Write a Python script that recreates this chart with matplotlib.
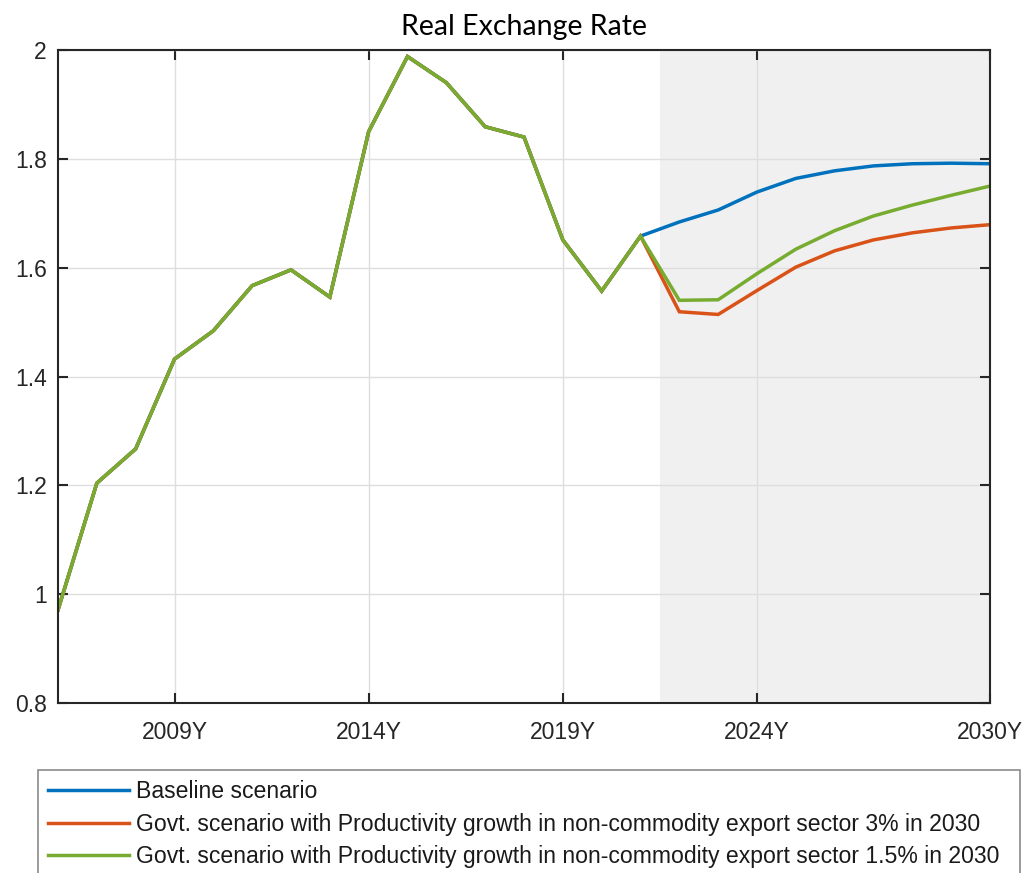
import matplotlib.pyplot as plt
import numpy as np

# data
hist_years = [2006, 2007, 2008, 2009, 2010, 2011, 2012, 2013, 2014, 2015,
              2016, 2017, 2018, 2019, 2020, 2021]
hist_vals = [0.971, 1.204, 1.267, 1.432, 1.484, 1.567, 1.596, 1.546, 1.850, 1.988,
             1.940, 1.859, 1.840, 1.651, 1.557, 1.658]

proj_years = [2022, 2023, 2024, 2025, 2026, 2027, 2028, 2029, 2030]
baseline = [1.684, 1.706, 1.739, 1.764, 1.778, 1.787, 1.791, 1.792, 1.791]
govt_3 = [1.519, 1.514, 1.558, 1.601, 1.631, 1.651, 1.664, 1.673, 1.679]
govt_15 = [1.540, 1.541, 1.589, 1.634, 1.668, 1.695, 1.715, 1.733, 1.750]

labels = ["Baseline scenario",
          "Govt. scenario with Productivity growth in non-commodity export sector 3% in 2030",
          "Govt. scenario with Productivity growth in non-commodity export sector 1.5% in 2030"]
colors = ["#0072BD", "#D95319", "#77AC30"]

xticks = [2009, 2014, 2019, 2024, 2030]
xticklabels = ["2009Y", "2014Y", "2019Y", "2024Y", "2030Y"]
yticks = [0.8, 1.0, 1.2, 1.4, 1.6, 1.8, 2.0]
yticklabels = ["0.8", "1", "1.2", "1.4", "1.6", "1.8", "2"]
forecast_start = 2021.5


def main():
    plt.rcParams['font.family'] = ['Liberation Sans', 'DejaVu Sans']
    fig = plt.figure(figsize=(10.28, 8.73), dpi=100)
    ax = fig.add_axes([58/1028, 1-703/873, (990-58)/1028, (703-50)/873])

    ax.axvspan(forecast_start, 2030, color="#f0f0f0", zorder=0, lw=0)

    years = hist_years + proj_years
    series = [baseline, govt_3, govt_15]
    for vals, lab, col in zip(series, labels, colors):
        ax.plot(years, hist_vals + vals, color=col, lw=2.5, label=lab,
                solid_joinstyle="miter")

    ax.set_xlim(2006, 2030)
    ax.set_ylim(0.8, 2.0)
    ax.set_xticks(xticks)
    ax.set_xticklabels(xticklabels)
    ax.set_yticks(yticks)
    ax.set_yticklabels(yticklabels)
    ax.grid(True, color="#dedede", lw=1)
    ax.set_axisbelow(True)
    ax.tick_params(direction="in", length=7.5, width=1.5, top=True, right=True,
                   labelsize=16.5, colors="#262626")
    ax.tick_params(axis="x", pad=13)
    ax.tick_params(axis="y", pad=8)
    for s in ax.spines.values():
        s.set_color("#262626")
        s.set_linewidth(1.5)

    ax.set_title("Real Exchange Rate", fontsize=20.5, family=["Lato", "DejaVu Sans"],
                 pad=11)

    leg = fig.legend(loc="upper left",
                     bbox_to_anchor=(38/1028, 0, (1020-38)/1028, 1-770/873),
                     mode="expand", borderaxespad=0, fontsize=16.6,
                     handlelength=3.5, handletextpad=0.3, labelspacing=0.4,
                     borderpad=0.45, fancybox=False, framealpha=1,
                     edgecolor="#8a8a8a")
    leg.get_frame().set_linewidth(1.2)
    for t in leg.get_texts():
        t.set_color("#1a1a1a")

    fig.savefig("out.png", dpi=100)


if __name__ == "__main__":
    main()
